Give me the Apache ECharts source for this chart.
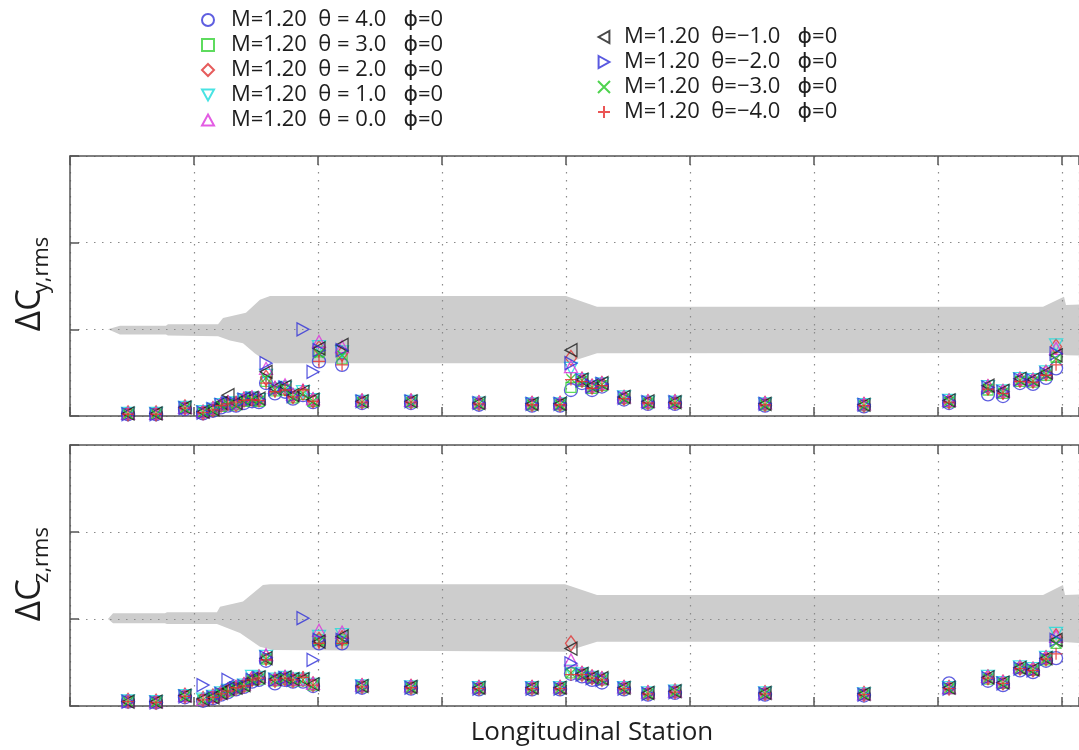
<!DOCTYPE html>
<html><head><meta charset="utf-8">
<script src="https://cdn.jsdelivr.net/npm/echarts@6/dist/echarts.min.js"></script>
<style>html,body{margin:0;padding:0;background:#fff}#c{width:1079px;height:750px}</style>
</head><body><div id="c"></div>
<script>
// ---------- data ----------
const stations = [0.468,0.694,0.927,1.073,1.153,1.218,1.274,1.339,1.403,1.468,1.524,1.581,1.653,1.734,1.798,1.879,1.960,2.008,2.194,2.355,2.750,3.298,3.726,3.952,4.040,4.129,4.210,4.290,4.468,4.661,4.879,5.605,6.403,7.089,7.403,7.524,7.661,7.766,7.871,7.952];

const seriesNames = [
  'M=1.20  θ = 4.0   ϕ=0','M=1.20  θ = 3.0   ϕ=0','M=1.20  θ = 2.0   ϕ=0','M=1.20  θ = 1.0   ϕ=0','M=1.20  θ = 0.0   ϕ=0',
  'M=1.20  θ=−1.0   ϕ=0','M=1.20  θ=−2.0   ϕ=0','M=1.20  θ=−3.0   ϕ=0','M=1.20  θ=−4.0   ϕ=0'
];

// ΔCy,rms (top panel)
const cyP4 = [0.02,0.02,0.08,0.03,0.06,0.10,0.12,0.12,0.15,0.17,0.16,0.38,0.26,0.28,0.20,0.24,0.16,0.63,0.59,0.15,0.15,0.13,0.12,0.12,0.30,0.38,0.30,0.34,0.19,0.14,0.14,0.12,0.11,0.15,0.25,0.23,0.38,0.37,0.44,0.55];
const cyP3 = [0.02,0.02,0.09,0.04,0.07,0.11,0.13,0.13,0.17,0.18,0.17,0.40,0.29,0.30,0.21,0.25,0.17,0.74,0.66,0.16,0.16,0.14,0.13,0.13,0.33,0.40,0.32,0.35,0.20,0.15,0.15,0.13,0.12,0.16,0.30,0.26,0.40,0.39,0.47,0.68];
const cyP2 = [0.03,0.03,0.10,0.04,0.08,0.13,0.15,0.14,0.19,0.20,0.19,0.44,0.31,0.32,0.23,0.27,0.18,0.78,0.72,0.17,0.17,0.15,0.14,0.14,0.67,0.42,0.34,0.37,0.21,0.16,0.16,0.14,0.13,0.17,0.33,0.28,0.42,0.41,0.50,0.80];
const cyP1 = [0.03,0.03,0.10,0.05,0.08,0.13,0.15,0.15,0.19,0.21,0.19,0.47,0.31,0.33,0.24,0.28,0.19,0.80,0.74,0.17,0.17,0.15,0.14,0.14,0.55,0.42,0.34,0.37,0.22,0.16,0.16,0.14,0.13,0.18,0.34,0.29,0.43,0.42,0.51,0.82];
const cyP0 = [0.03,0.03,0.10,0.05,0.09,0.14,0.16,0.15,0.20,0.22,0.21,0.55,0.33,0.36,0.25,0.30,0.20,0.86,0.80,0.18,0.18,0.16,0.15,0.15,0.57,0.43,0.35,0.38,0.22,0.17,0.17,0.15,0.14,0.18,0.35,0.29,0.43,0.42,0.51,0.78];
const cyM1 = [0.03,0.03,0.10,0.05,0.08,0.15,0.24,0.15,0.20,0.21,0.20,0.51,0.32,0.34,0.24,0.28,0.19,0.78,0.82,0.17,0.17,0.15,0.14,0.14,0.76,0.42,0.35,0.38,0.22,0.17,0.16,0.14,0.13,0.18,0.35,0.29,0.43,0.42,0.50,0.70];
const cyM2 = [0.02,0.02,0.09,0.04,0.08,0.13,0.15,0.14,0.19,0.20,0.19,0.61,0.31,0.33,0.23,1.00,0.51,0.76,0.76,0.17,0.17,0.15,0.14,0.14,0.61,0.41,0.34,0.37,0.21,0.16,0.16,0.14,0.13,0.17,0.33,0.28,0.42,0.41,0.49,0.72];
const cyM3 = [0.02,0.02,0.09,0.04,0.07,0.12,0.14,0.13,0.18,0.19,0.18,0.44,0.30,0.31,0.22,0.26,0.17,0.72,0.70,0.16,0.16,0.14,0.13,0.13,0.43,0.41,0.33,0.36,0.20,0.15,0.15,0.13,0.12,0.17,0.32,0.27,0.41,0.40,0.48,0.66];
const cyM4 = [0.02,0.02,0.09,0.04,0.07,0.12,0.14,0.16,0.18,0.19,0.18,0.38,0.28,0.30,0.22,0.30,0.17,0.63,0.59,0.16,0.16,0.14,0.13,0.13,0.42,0.40,0.32,0.35,0.20,0.15,0.15,0.13,0.12,0.16,0.31,0.26,0.40,0.39,0.47,0.59];

// ΔCz,rms (bottom panel)
const czP4 = [0.05,0.04,0.10,0.06,0.09,0.13,0.16,0.19,0.22,0.28,0.30,0.52,0.26,0.30,0.28,0.28,0.23,0.72,0.72,0.21,0.20,0.19,0.19,0.19,0.37,0.34,0.30,0.27,0.19,0.13,0.15,0.13,0.12,0.26,0.29,0.24,0.41,0.39,0.52,0.55];
const czP3 = [0.05,0.04,0.11,0.07,0.10,0.14,0.17,0.20,0.23,0.30,0.31,0.54,0.29,0.31,0.29,0.29,0.24,0.76,0.76,0.22,0.21,0.20,0.20,0.20,0.38,0.36,0.32,0.30,0.20,0.14,0.16,0.14,0.13,0.20,0.31,0.26,0.43,0.41,0.53,0.72];
const czP2 = [0.06,0.05,0.12,0.08,0.11,0.15,0.18,0.21,0.24,0.31,0.33,0.56,0.30,0.32,0.30,0.31,0.25,0.76,0.78,0.23,0.22,0.21,0.21,0.21,0.72,0.37,0.33,0.31,0.21,0.15,0.17,0.15,0.14,0.21,0.33,0.27,0.44,0.42,0.55,0.80];
const czP1 = [0.06,0.05,0.12,0.08,0.11,0.15,0.18,0.21,0.24,0.34,0.33,0.57,0.31,0.33,0.31,0.31,0.25,0.80,0.82,0.23,0.22,0.21,0.21,0.21,0.40,0.37,0.33,0.31,0.21,0.15,0.17,0.15,0.14,0.21,0.34,0.27,0.45,0.43,0.56,0.835];
const czP0 = [0.06,0.05,0.12,0.08,0.11,0.15,0.19,0.22,0.25,0.32,0.34,0.59,0.31,0.34,0.31,0.31,0.26,0.87,0.85,0.24,0.23,0.22,0.22,0.22,0.53,0.38,0.34,0.32,0.22,0.16,0.17,0.15,0.14,0.21,0.34,0.28,0.45,0.43,0.56,0.80];
const czM1 = [0.05,0.05,0.12,0.08,0.10,0.15,0.20,0.21,0.24,0.31,0.33,0.55,0.31,0.33,0.31,0.31,0.25,0.74,0.80,0.23,0.22,0.21,0.21,0.21,0.66,0.37,0.33,0.32,0.21,0.15,0.17,0.15,0.14,0.21,0.33,0.27,0.44,0.42,0.55,0.76];
const czM2 = [0.05,0.04,0.11,0.24,0.10,0.14,0.30,0.20,0.23,0.30,0.32,0.56,0.30,0.32,0.30,1.01,0.53,0.76,0.76,0.22,0.21,0.20,0.20,0.20,0.49,0.36,0.32,0.30,0.20,0.14,0.16,0.14,0.13,0.20,0.32,0.26,0.43,0.41,0.54,0.76];
const czM3 = [0.05,0.04,0.11,0.07,0.10,0.14,0.17,0.20,0.23,0.30,0.32,0.54,0.30,0.32,0.30,0.30,0.24,0.74,0.76,0.22,0.21,0.20,0.20,0.20,0.38,0.36,0.32,0.30,0.20,0.14,0.16,0.14,0.13,0.20,0.32,0.26,0.43,0.41,0.54,0.72];
const czM4 = [0.05,0.04,0.11,0.07,0.10,0.14,0.17,0.21,0.23,0.30,0.32,0.53,0.30,0.32,0.30,0.33,0.24,0.72,0.72,0.22,0.21,0.20,0.20,0.20,0.36,0.36,0.32,0.30,0.20,0.14,0.16,0.14,0.13,0.20,0.32,0.26,0.43,0.41,0.54,0.60];

// grey envelope, top panel
const bandYUpX = [0.306,0.403,0.774,0.790,1.194,1.234,1.419,1.532,1.613,4.000,4.250,7.847,8.016,8.032,8.419];
const bandYUp  = [1.00,1.04,1.04,1.06,1.06,1.13,1.19,1.34,1.384,1.384,1.26,1.26,1.376,1.28,1.30];
const bandYLoX = [0.306,0.403,0.774,0.790,1.194,1.290,1.395,1.492,1.573,1.653,4.000,4.250,7.984,8.032,8.419];
const bandYLo  = [1.00,0.94,0.94,0.93,0.92,0.87,0.84,0.72,0.64,0.61,0.608,0.723,0.727,0.70,0.69];
// grey envelope, bottom panel
const bandZUpX = [0.306,0.347,0.766,0.782,1.185,1.210,1.395,1.556,1.613,3.992,4.250,7.847,8.008,8.024,8.419];
const bandZUp  = [1.00,1.065,1.065,1.077,1.077,1.14,1.20,1.39,1.40,1.40,1.276,1.276,1.39,1.276,1.30];
const bandZLoX = [0.306,0.347,0.766,0.782,1.185,1.371,1.532,1.637,3.992,4.250,7.984,8.419];
const bandZLo  = [1.00,0.95,0.95,0.943,0.943,0.84,0.68,0.644,0.624,0.739,0.739,0.70];

// ---------- styles ----------
const FONT = "'Open Sans', 'DejaVu Sans', sans-serif";
const styles = [
  {symbol:'circle', size:13, color:'#3636d8'},
  {symbol:'rect', size:10, color:'#36d236'},
  {symbol:'diamond', size:[11,15], color:'#e03333'},
  {symbol:'path://M0,0L10,0L5,9Z', size:[13,12], color:'#1cdcdc'},
  {symbol:'path://M5,0L10,9L0,9Z', size:[13,12], color:'#dc33dc'},
  {symbol:'path://M9,0L9,10L0,5Z', size:[12,13], color:'#1a1a1a'},
  {symbol:'path://M0,0L9,5L0,10Z', size:[12,13], color:'#3030d8'},
  {symbol:'path://M0,0L10,10M10,0L0,10', size:9, color:'#22c822'},
  {symbol:'path://M5,0L5,10M0,5L10,5', size:12, color:'#e62a2a'}
];
const cyAll = [cyP4,cyP3,cyP2,cyP1,cyP0,cyM1,cyM2,cyM3,cyM4];
const czAll = [czP4,czP3,czP2,czP1,czP0,czM1,czM2,czM3,czM4];

const axisColor = '#555';
const dotted = {type:[1.5,6.5], color:'#8a8a8a', width:1.2};
const X_MAX = 8.137;

function xAxes(gridIndex) {
  const base = {
    type:'value', gridIndex, min:0, max:X_MAX, interval:1, z:1,
    axisLine:{show:true, onZero:false, lineStyle:{color:axisColor, width:1.5}},
    axisTick:{show:true, inside:true, length:9, lineStyle:{color:axisColor, width:1.5}},
    axisLabel:{show:false}
  };
  const bottom = Object.assign({}, base, {position:'bottom', splitLine:{show:true, lineStyle:dotted}});
  const top = Object.assign({}, base, {position:'top', splitLine:{show:false}});
  return [bottom, top];
}
function yAxis(gridIndex) {
  return {
    type:'value', gridIndex, min:0, max:3, interval:1, z:1,
    axisLine:{show:true, onZero:false, lineStyle:{color:axisColor, width:1.5}},
    axisTick:{show:true, inside:true, length:9, lineStyle:{color:axisColor, width:1.5}},
    axisLabel:{show:false},
    splitLine:{show:true, lineStyle:dotted}
  };
}
function bandSeries(gridIndex, upX, up, loX, lo) {
  return {
    type:'custom', xAxisIndex:gridIndex*2, yAxisIndex:gridIndex, z:0, silent:true,
    data:[[0,0]],
    renderItem:function(params, api){
      const pts = [];
      for (let i=0;i<upX.length;i++) pts.push(api.coord([upX[i], up[i]]));
      for (let i=loX.length-1;i>=0;i--) pts.push(api.coord([loX[i], lo[i]]));
      return {type:'polygon', shape:{points:pts}, style:{fill:'#cdcdcd'}};
    }
  };
}

const series = [bandSeries(0, bandYUpX, bandYUp, bandYLoX, bandYLo), bandSeries(1, bandZUpX, bandZUp, bandZLoX, bandZLo)];
[cyAll, czAll].forEach(function(all, g){
  all.forEach(function(vals, k){
    const st = styles[k];
    series.push({
      type:'scatter', name:seriesNames[k], xAxisIndex:g*2, yAxisIndex:g, z:3,
      symbol:st.symbol, symbolSize:st.size, clip:false,
      itemStyle:{color:'rgba(0,0,0,0)', borderColor:st.color, borderWidth:1.3},
      emphasis:{disabled:true},
      data:stations.map(function(x,i){return [x, vals[i]];})
    });
  });
});

const legendText = {fontSize:22, lineHeight:22, fontFamily:FONT, color:'#1e1e1e'};
const option = {
  animation:false,
  backgroundColor:'#fff',
  grid:[
    {left:70, right:0, top:156, height:260},
    {left:70, right:0, top:445, height:261}
  ],
  xAxis: xAxes(0).concat(xAxes(1)),
  yAxis: [yAxis(0), yAxis(1)],
  legend:[
    {data:seriesNames.slice(0,5), orient:'vertical', left:201, top:9, padding:0,
     itemWidth:12, itemHeight:12, itemGap:3, selectedMode:false,
     textStyle:Object.assign({padding:[0,0,0,12]}, legendText)},
    {data:seriesNames.slice(5), orient:'vertical', left:597, top:26, padding:0,
     itemWidth:12, itemHeight:12, itemGap:3, selectedMode:false,
     textStyle:Object.assign({padding:[0,0,0,9]}, legendText)}
  ],
  graphic:[
    {type:'text', x:30, y:310, rotation:Math.PI/2, silent:true,
     style:{text:'ΔC', fontSize:35, fontFamily:FONT, fill:'#1e1e1e', align:'center', verticalAlign:'middle'}},
    {type:'text', x:42, y:265, rotation:Math.PI/2, silent:true,
     style:{text:'y,rms', fontSize:22, fontFamily:FONT, fill:'#1e1e1e', align:'center', verticalAlign:'middle'}},
    {type:'text', x:30, y:600, rotation:Math.PI/2, silent:true,
     style:{text:'ΔC', fontSize:35, fontFamily:FONT, fill:'#1e1e1e', align:'center', verticalAlign:'middle'}},
    {type:'text', x:42, y:555, rotation:Math.PI/2, silent:true,
     style:{text:'z,rms', fontSize:22, fontFamily:FONT, fill:'#1e1e1e', align:'center', verticalAlign:'middle'}},
    {type:'text', x:592, y:733, silent:true,
     style:{text:'Longitudinal Station', fontSize:26, fontFamily:FONT, fill:'#1e1e1e', align:'center', verticalAlign:'middle'}}
  ],
  series:series
};
const chart = echarts.init(document.getElementById('c'), null, {renderer:'canvas'});
chart.setOption(option);
</script>
</body></html>
